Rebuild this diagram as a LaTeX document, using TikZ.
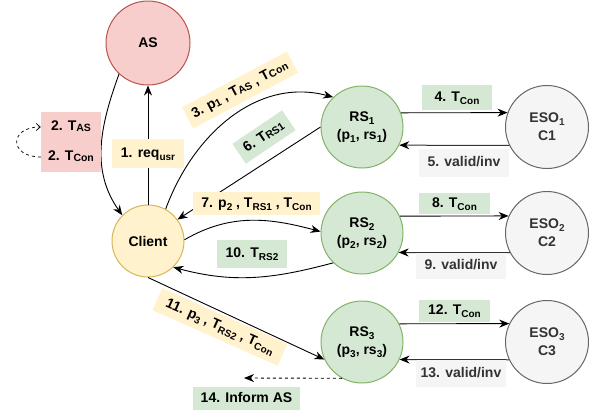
\documentclass[tikz,border=0pt]{standalone}
\usepackage{fontspec}
\setmainfont{Liberation Sans}
\usetikzlibrary{arrows.meta}
\definecolor{pinkfill}{HTML}{F8CECC}
\definecolor{pinkline}{HTML}{B85450}
\definecolor{yellowfill}{HTML}{FFF2CC}
\definecolor{yellowline}{HTML}{D6B656}
\definecolor{greenfill}{HTML}{D5E8D4}
\definecolor{greenline}{HTML}{82B366}
\definecolor{greyfill}{HTML}{F5F5F5}
\definecolor{greyline}{HTML}{666666}
\definecolor{greytext}{HTML}{333333}
\newcommand{\lowsub}[1]{\raisebox{-3pt}{\fontsize{10}{10}\selectfont #1}}
\newcommand{\lowsm}[1]{\raisebox{-1pt}{\fontsize{10.5}{10}\selectfont #1}}
\begin{document}
\begin{tikzpicture}[x=1pt,y=1pt,font=\fontsize{14}{18}\selectfont\bfseries,
	every node/.style={align=center},
	ball/.style={circle,draw,line width=1pt,inner sep=0pt},
	asnode/.style={ball,fill=pinkfill,draw=pinkline,minimum size=84pt},
	clnode/.style={ball,fill=yellowfill,draw=yellowline,minimum size=72pt},
	rsnode/.style={ball,fill=greenfill,draw=greenline,minimum size=82pt},
	esonode/.style={ball,fill=greyfill,draw=greyline,text=greytext,minimum size=83pt},
	lbl/.style={inner sep=0pt,text height=10pt,text depth=3pt,minimum height=24pt},
	ylbl/.style={lbl,fill=yellowfill},
	glbl/.style={lbl,fill=greenfill},
	plbl/.style={lbl,fill=pinkfill,minimum width=60pt,minimum height=30pt},
	wlbl/.style={lbl,fill=greyfill,text=greytext,minimum width=90pt},
	arr/.style={-{Stealth[length=10pt,width=8pt]},line width=0.9pt},
	backarr/.style={-{Stealth[length=10pt,width=8pt,color=black]},line width=1pt,draw=black!80},
	dasharr/.style={-{Straight Barb[length=4pt,width=7pt]},line width=0.7pt,dash pattern=on 3pt off 3pt}]
	\useasboundingbox (0,0) rectangle (595,-413);
	\node[asnode] (as) at (148,-43) {AS};
	\node[clnode] (client) at (148,-241) {Client};
	\node[rsnode] (rs1) at (362,-127) {RS\lowsub{1}\\(p\lowsub{1}, rs\lowsub{1})};
	\node[rsnode] (rs2) at (362,-233) {RS\lowsub{2}\\(p\lowsub{2}, rs\lowsub{2})};
	\node[rsnode] (rs3) at (362,-342) {RS\lowsub{3}\\(p\lowsub{3}, rs\lowsub{3})};
	\node[esonode] (eso1) at (547,-127) {ESO\lowsub{1}\\C1};
	\node[esonode] (eso2) at (547,-233) {ESO\lowsub{2}\\C2};
	\node[esonode] (eso3) at (547,-342) {ESO\lowsub{3}\\C3};
	\coordinate (informend) at (244,-378);
	\draw[arr] (as.227) to[out=250,in=125] (client.135);
	\draw[arr] (client.90) -- (as.270);
	\draw[arr] (client.61) to[out=70,in=165] (rs1.134);
	\draw[arr] (rs1.180) -- (client.36);
	\draw[arr] (client.2) to[out=30,in=165] (rs2.178);
	\draw[arr] (rs2.226) to[out=195,in=-15] (client.314);
	\draw[arr] (client.270) -- (rs3.205);
	\draw[arr,dash pattern=on 3pt off 3pt] (rs3.241) -- (informend);
	\draw[arr] (rs1.20) -- (eso1.160);
	\draw[backarr] (eso1.-154) -- (rs1.-26);
	\draw[arr] (rs2.24) -- (eso2.156);
	\draw[backarr] (eso2.-152) -- (rs2.-28);
	\draw[arr] (rs3.26) -- (eso3.154);
	\draw[backarr] (eso3.-155) -- (rs3.-25);
	\node[ylbl,minimum width=72pt,minimum height=29pt] (lbl1) at (148,-153.5) {1. req\lowsub{usr}};
	\node[plbl] (lbl2a) at (71,-127) {2. T\lowsm{AS}};
	\node[plbl] (lbl2b) at (71,-157) {2. T\lowsm{Con}};
	\draw[dasharr] (lbl2b.west) .. controls +(-32,0) and +(-32,0) .. (lbl2a.west);
	\node[ylbl,rotate=28,minimum width=119pt] (lbl3) at (240,-90) {3. p\lowsm{1} , T\lowsm{AS} , T\lowsm{Con}};
	\node[glbl,rotate=34,minimum width=60pt] (lbl6) at (264,-137) {6. T\lowsm{RS1}};
	\node[ylbl,minimum width=127pt,minimum height=23pt] (lbl7) at (256.5,-203.5) {7. p\lowsub{2} , T\lowsub{RS1} , T\lowsub{Con}};
	\node[glbl,minimum width=70pt,minimum height=28pt] (lbl10) at (252,-254) {10. T\lowsub{RS2}};
	\node[ylbl,rotate=-24,minimum width=137pt] (lbl11) at (220,-327) {11. p\lowsub{3} , T\lowsub{RS2} , T\lowsub{Con}};
	\node[glbl,minimum width=107pt,minimum height=23pt] (lbl14) at (246.5,-398.5) {14. Inform AS};
	\node[glbl,minimum width=70pt,minimum height=25pt] (lbl4) at (457,-97.5) {4. T\lowsub{Con}};
	\node[wlbl,minimum height=28pt] (lbl5) at (464,-163) {5. valid/inv};
	\node[glbl,minimum width=71pt,minimum height=21pt] (lbl8) at (454.5,-203.5) {8. T\lowsub{Con}};
	\node[wlbl,minimum height=26pt] (lbl9) at (461,-266) {9. valid/inv};
	\node[glbl,minimum width=71pt,minimum height=22pt] (lbl12) at (454.5,-311) {12. T\lowsub{Con}};
	\node[wlbl,minimum height=27pt] (lbl13) at (461,-373.5) {13. valid/inv};
\end{tikzpicture}
\end{document}
